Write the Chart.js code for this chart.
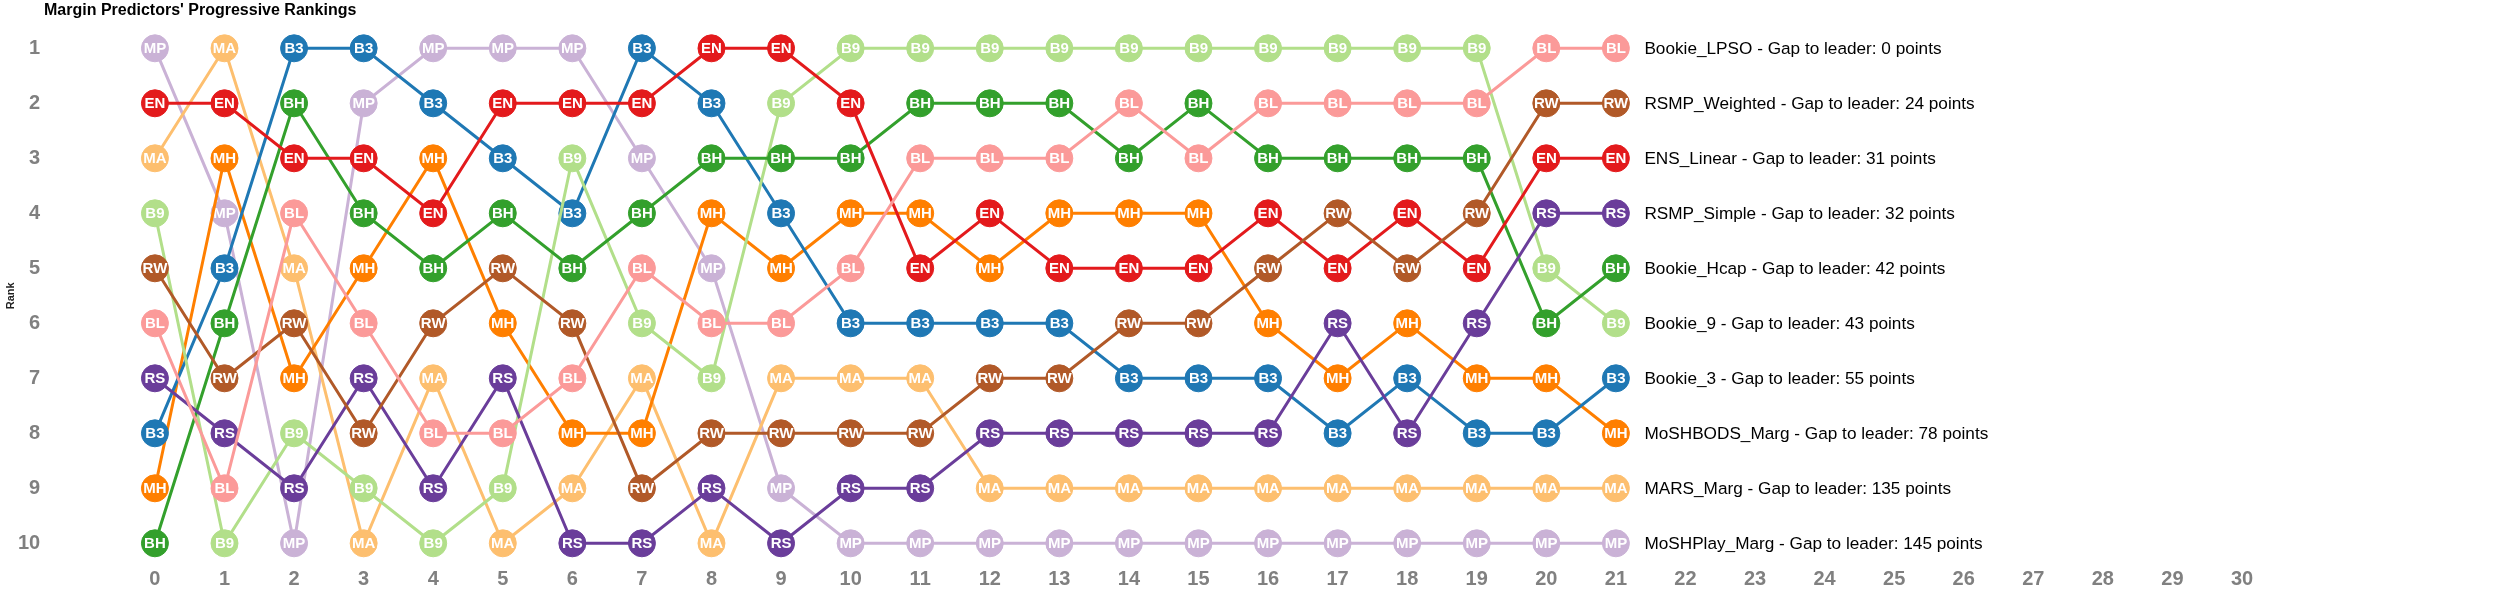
<!DOCTYPE html>
<html>
<head>
<meta charset="utf-8">
<title>Margin Predictors' Progressive Rankings</title>
<script src="https://cdn.jsdelivr.net/npm/chart.js@4.4.1/dist/chart.umd.min.js"></script>
<style>
  html, body { margin: 0; padding: 0; background: #ffffff; }
  #wrap { width: 2500px; height: 608px; }
</style>
</head>
<body>
<div id="wrap"><canvas id="c" width="2500" height="608"></canvas></div>
<script>
// ---------------- DATA ----------------
const rounds = [0,1,2,3,4,5,6,7,8,9,10,11,12,13,14,15,16,17,18,19,20,21];

const seriesCodes = ['BL','RW','EN','RS','BH','B9','B3','MH','MA','MP'];
const seriesNames = ['Bookie_LPSO','RSMP_Weighted','ENS_Linear','RSMP_Simple','Bookie_Hcap','Bookie_9','Bookie_3','MoSHBODS_Marg','MARS_Marg','MoSHPlay_Marg'];
const gapToLeader = [0,24,31,32,42,43,55,78,135,145];

const rankBL = [6,9,4,6,8,8,7,5,6,6,5,3,3,3,2,3,2,2,2,2,1,1];
const rankRW = [5,7,6,8,6,5,6,9,8,8,8,8,7,7,6,6,5,4,5,4,2,2];
const rankEN = [2,2,3,3,4,2,2,2,1,1,2,5,4,5,5,5,4,5,4,5,3,3];
const rankRS = [7,8,9,7,9,7,10,10,9,10,9,9,8,8,8,8,8,6,8,6,4,4];
const rankBH = [10,6,2,4,5,4,5,4,3,3,3,2,2,2,3,2,3,3,3,3,6,5];
const rankB9 = [4,10,8,9,10,9,3,6,7,2,1,1,1,1,1,1,1,1,1,1,5,6];
const rankB3 = [8,5,1,1,2,3,4,1,2,4,6,6,6,6,7,7,7,8,7,8,8,7];
const rankMH = [9,3,7,5,3,6,8,8,4,5,4,4,5,4,4,4,6,7,6,7,7,8];
const rankMA = [3,1,5,10,7,10,9,7,10,7,7,7,9,9,9,9,9,9,9,9,9,9];
const rankMP = [1,4,10,2,1,1,1,3,5,9,10,10,10,10,10,10,10,10,10,10,10,10];

const xTickLabels = ['0','1','2','3','4','5','6','7','8','9','10','11','12','13','14','15','16','17','18','19','20','21','22','23','24','25','26','27','28','29','30'];
const yTickLabels = ['1','2','3','4','5','6','7','8','9','10'];

const chartTitle = "Margin Predictors' Progressive Rankings";
const yAxisTitle = 'Rank';

// ---------------- STYLE ----------------
const seriesRanks = [rankBL, rankRW, rankEN, rankRS, rankBH, rankB9, rankB3, rankMH, rankMA, rankMP];
const seriesColors = ['#fb9a99','#b15928','#e31a1c','#6a3d9a','#33a02c','#b2df8a','#1f78b4','#ff7f00','#fdbf6f','#cab2d6'];
const FONT = '"Liberation Sans", Arial, Helvetica, sans-serif';

const datasets = seriesCodes.map((code, s) => ({
  label: seriesNames[s],
  code: code,
  data: rounds.map((r, i) => ({ x: r, y: seriesRanks[s][i] })),
  borderColor: seriesColors[s],
  backgroundColor: seriesColors[s],
  pointBackgroundColor: seriesColors[s],
  pointBorderColor: seriesColors[s],
  pointBorderWidth: 1,
  pointRadius: 13.5,
  pointHoverRadius: 13.5,
  borderWidth: 3,
  tension: 0,
  clip: false,
  fill: false
}));

const pointLabelPlugin = {
  id: 'pointLabels',
  afterDatasetDraw(chart, args) {
    const ctx = chart.ctx;
    const ds = chart.data.datasets[args.index];
    const meta = args.meta;
    ctx.save();
    ctx.font = 'bold 15px ' + FONT;
    ctx.fillStyle = '#ffffff';
    ctx.textAlign = 'center';
    ctx.textBaseline = 'middle';
    meta.data.forEach(pt => {
      ctx.fillText(ds.code, pt.x, pt.y + 0.5);
    });
    ctx.restore();
  }
};

const extrasPlugin = {
  id: 'extras',
  afterDraw(chart) {
    const ctx = chart.ctx;
    const xs = chart.scales.x, ys = chart.scales.y;
    ctx.save();
    // title
    ctx.font = 'bold 16px ' + FONT;
    ctx.fillStyle = '#000000';
    ctx.textAlign = 'left';
    ctx.textBaseline = 'middle';
    ctx.fillText(chartTitle, 44, 11);
    // end labels
    ctx.font = '17.2px ' + FONT;
    ctx.fillStyle = '#000000';
    const lastIdx = rounds.length - 1;
    const xEnd = xs.getPixelForValue(rounds[lastIdx]) + 28.5;
    seriesRanks.forEach((ranks, s) => {
      const y = ys.getPixelForValue(ranks[lastIdx]);
      ctx.fillText(seriesNames[s] + ' - Gap to leader: ' + gapToLeader[s] + ' points', xEnd, y + 1);
    });
    ctx.restore();
  }
};

new Chart(document.getElementById('c'), {
  type: 'line',
  data: { datasets },
  options: {
    responsive: false,
    devicePixelRatio: 1,
    animation: false,
    events: [],
    layout: { padding: { top: 26.3, right: 10, bottom: 0, left: 0 } },
    plugins: {
      legend: { display: false },
      title: { display: false },
      tooltip: { enabled: false }
    },
    scales: {
      x: {
        type: 'linear',
        min: -0.5,
        max: 33.5,
        grid: { display: false, drawTicks: false },
        border: { display: false },
        afterFit(scale) { scale.height = 42.7; },
        afterBuildTicks(scale) { scale.ticks = xTickLabels.map((l, i) => ({ value: i })); },
        ticks: {
          autoSkip: false,
          maxRotation: 0,
          padding: 2,
          color: '#808080',
          font: { family: FONT, size: 20, weight: 'bold' },
          callback: (v) => xTickLabels[v]
        }
      },
      y: {
        type: 'linear',
        reverse: true,
        min: 0.6,
        max: 10.4,
        grid: {
          display: true,
          drawOnChartArea: false,
          drawTicks: true,
          tickLength: 78,
          color: 'rgba(0,0,0,0)'
        },
        border: { display: false },
        afterFit(scale) { scale.width = 120.15; },
        afterBuildTicks(scale) { scale.ticks = yTickLabels.map((l, i) => ({ value: i + 1 })); },
        title: {
          display: true,
          text: yAxisTitle,
          color: '#222222',
          font: { family: FONT, size: 11, weight: 'bold' },
          padding: 4
        },
        ticks: {
          autoSkip: false,
          padding: 2,
          color: '#808080',
          font: { family: FONT, size: 20, weight: 'bold' },
          callback: (v) => yTickLabels[v - 1]
        }
      }
    }
  },
  plugins: [pointLabelPlugin, extrasPlugin]
});
</script>
</body>
</html>
